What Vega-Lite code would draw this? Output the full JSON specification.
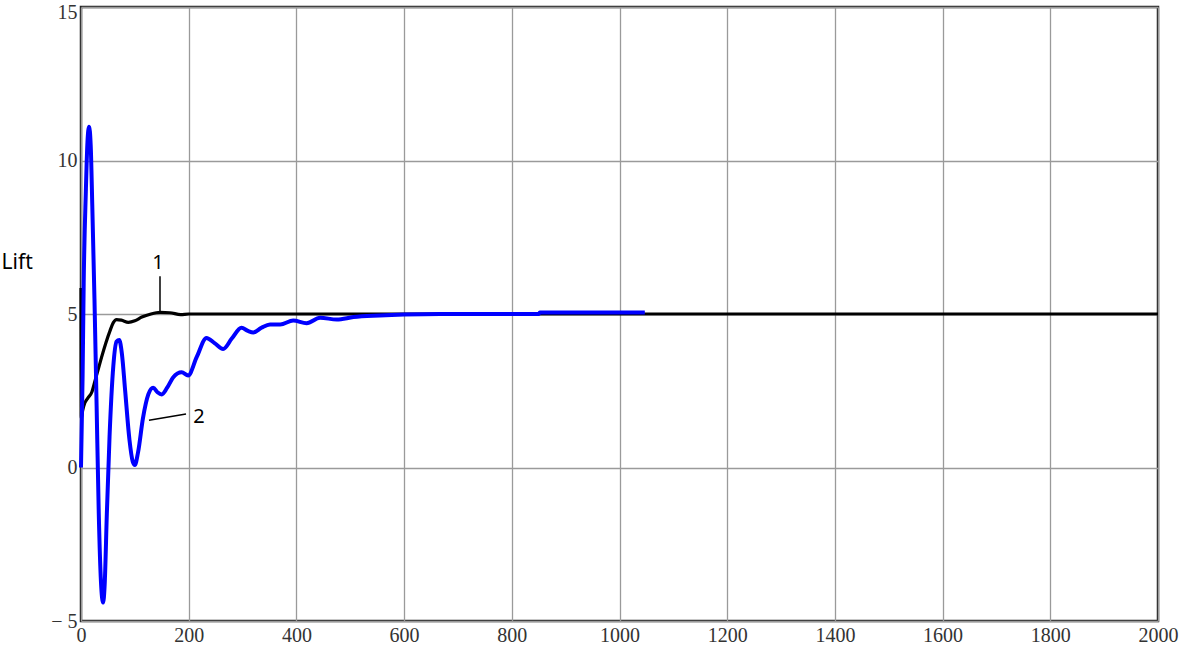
{
  "$schema": "https://vega.github.io/schema/vega-lite/v6.json",
  "width": 1077,
  "height": 614,
  "autosize": {"type": "none"},
  "padding": {"left": 81, "top": 7, "right": 30, "bottom": 29},
  "background": "white",
  "config": {
    "view": {"stroke": "#222", "strokeWidth": 2.5},
    "axis": {
      "grid": true,
      "gridColor": "#9a9a9a",
      "gridWidth": 1.3,
      "ticks": false,
      "domain": false,
      "labelFont": "Liberation Serif",
      "labelFontSize": 20,
      "labelColor": "#333",
      "labelOverlap": false,
      "labelFlush": false,
      "labelBound": false
    }
  },
  "datasets": {
    "curves": [
      {"series": "1", "i": 0, "x": 0, "y": 5.85},
      {"series": "1", "i": 1, "x": 0.5, "y": 1.6},
      {"series": "1", "i": 2, "x": 3, "y": 1.85},
      {"series": "1", "i": 3, "x": 7, "y": 2.1},
      {"series": "1", "i": 4, "x": 13, "y": 2.27},
      {"series": "1", "i": 5, "x": 20, "y": 2.45},
      {"series": "1", "i": 6, "x": 26, "y": 2.82},
      {"series": "1", "i": 7, "x": 32, "y": 3.2},
      {"series": "1", "i": 8, "x": 38, "y": 3.58},
      {"series": "1", "i": 9, "x": 46, "y": 4.05},
      {"series": "1", "i": 10, "x": 54, "y": 4.46},
      {"series": "1", "i": 11, "x": 60, "y": 4.72},
      {"series": "1", "i": 12, "x": 66, "y": 4.82},
      {"series": "1", "i": 13, "x": 75, "y": 4.8},
      {"series": "1", "i": 14, "x": 88, "y": 4.73},
      {"series": "1", "i": 15, "x": 100, "y": 4.78},
      {"series": "1", "i": 16, "x": 113, "y": 4.9},
      {"series": "1", "i": 17, "x": 130, "y": 5.0},
      {"series": "1", "i": 18, "x": 147, "y": 5.05},
      {"series": "1", "i": 19, "x": 165, "y": 5.04},
      {"series": "1", "i": 20, "x": 185, "y": 4.98},
      {"series": "1", "i": 21, "x": 200, "y": 5.0},
      {"series": "1", "i": 22, "x": 2000, "y": 5.0},
      {"series": "2", "i": 0, "x": 0, "y": 0.0},
      {"series": "2", "i": 1, "x": 3, "y": 3.0},
      {"series": "2", "i": 2, "x": 5, "y": 6.0},
      {"series": "2", "i": 3, "x": 9, "y": 9.0},
      {"series": "2", "i": 4, "x": 12, "y": 10.6},
      {"series": "2", "i": 5, "x": 15, "y": 11.1},
      {"series": "2", "i": 6, "x": 18, "y": 10.5},
      {"series": "2", "i": 7, "x": 21, "y": 8.5},
      {"series": "2", "i": 8, "x": 25, "y": 5.5},
      {"series": "2", "i": 9, "x": 29, "y": 2.0},
      {"series": "2", "i": 10, "x": 33, "y": -1.5},
      {"series": "2", "i": 11, "x": 37, "y": -3.7},
      {"series": "2", "i": 12, "x": 41, "y": -4.4},
      {"series": "2", "i": 13, "x": 44, "y": -3.8},
      {"series": "2", "i": 14, "x": 48, "y": -1.5},
      {"series": "2", "i": 15, "x": 53, "y": 1.0},
      {"series": "2", "i": 16, "x": 60, "y": 3.3},
      {"series": "2", "i": 17, "x": 66, "y": 4.1},
      {"series": "2", "i": 18, "x": 71, "y": 4.15},
      {"series": "2", "i": 19, "x": 76, "y": 3.7},
      {"series": "2", "i": 20, "x": 82, "y": 2.5},
      {"series": "2", "i": 21, "x": 90, "y": 0.9},
      {"series": "2", "i": 22, "x": 96, "y": 0.2},
      {"series": "2", "i": 23, "x": 100, "y": 0.08},
      {"series": "2", "i": 24, "x": 106, "y": 0.5},
      {"series": "2", "i": 25, "x": 115, "y": 1.6},
      {"series": "2", "i": 26, "x": 125, "y": 2.38},
      {"series": "2", "i": 27, "x": 134, "y": 2.6},
      {"series": "2", "i": 28, "x": 142, "y": 2.45},
      {"series": "2", "i": 29, "x": 150, "y": 2.38},
      {"series": "2", "i": 30, "x": 160, "y": 2.6},
      {"series": "2", "i": 31, "x": 171, "y": 2.93},
      {"series": "2", "i": 32, "x": 187, "y": 3.1},
      {"series": "2", "i": 33, "x": 199, "y": 3.0},
      {"series": "2", "i": 34, "x": 215, "y": 3.6},
      {"series": "2", "i": 35, "x": 233, "y": 4.22},
      {"series": "2", "i": 36, "x": 248, "y": 4.05},
      {"series": "2", "i": 37, "x": 264, "y": 3.86},
      {"series": "2", "i": 38, "x": 280, "y": 4.2},
      {"series": "2", "i": 39, "x": 298, "y": 4.55},
      {"series": "2", "i": 40, "x": 310, "y": 4.45},
      {"series": "2", "i": 41, "x": 320, "y": 4.4},
      {"series": "2", "i": 42, "x": 335, "y": 4.55},
      {"series": "2", "i": 43, "x": 351, "y": 4.66},
      {"series": "2", "i": 44, "x": 370, "y": 4.66},
      {"series": "2", "i": 45, "x": 394, "y": 4.79},
      {"series": "2", "i": 46, "x": 419, "y": 4.7},
      {"series": "2", "i": 47, "x": 444, "y": 4.88},
      {"series": "2", "i": 48, "x": 475, "y": 4.82},
      {"series": "2", "i": 49, "x": 506, "y": 4.9},
      {"series": "2", "i": 50, "x": 555, "y": 4.95},
      {"series": "2", "i": 51, "x": 600, "y": 4.98},
      {"series": "2", "i": 52, "x": 667, "y": 5.0},
      {"series": "2", "i": 53, "x": 850, "y": 5.0},
      {"series": "2", "i": 54, "x": 852, "y": 5.05},
      {"series": "2", "i": 55, "x": 1047, "y": 5.05}
    ],
    "leaders": [
      {"x": 146.7, "y": 6.23, "x2": 146.7, "y2": 5.08},
      {"x": 126.3, "y": 1.54, "x2": 195, "y2": 1.74}
    ],
    "labels": [
      {"x": 143, "y": 6.66, "text": "1"},
      {"x": 219, "y": 1.64, "text": "2"}
    ]
  },
  "layer": [
    {
      "data": {"name": "curves"},
      "transform": [{"filter": "datum.series == '1'"}],
      "mark": {"type": "line", "color": "#000000", "strokeWidth": 3.2, "interpolate": "monotone"},
      "encoding": {
        "x": {
          "field": "x", "type": "quantitative",
          "scale": {"domain": [0, 2000], "nice": false, "zero": false},
          "axis": {
            "values": [0, 200, 400, 600, 800, 1000, 1200, 1400, 1600, 1800, 2000],
            "format": "d",
            "title": null,
            "labelDx": 6,
            "labelPadding": 4
          }
        },
        "y": {
          "field": "y", "type": "quantitative",
          "scale": {"domain": [-5, 15], "nice": false, "zero": false},
          "axis": {
            "values": [-5, 0, 5, 10, 15],
            "labelExpr": "datum.value < 0 ? '− ' + abs(datum.value) : datum.label",
            "labelPadding": 4,
            "labelBaseline": {"condition": {"test": "datum.value == 15", "value": "top"}, "value": "middle"},
            "labelOffset": {"condition": {"test": "datum.value == 15", "value": -5}, "value": 0},
            "title": "Lift",
            "titleAngle": 0,
            "titleAlign": "left",
            "titleBaseline": "middle",
            "titleX": -80,
            "titleY": 255,
            "titleFont": "Noto Sans",
            "titleFontSize": 21,
            "titleFontWeight": "normal",
            "titleColor": "#000"
          }
        },
        "order": {"field": "i", "type": "quantitative"}
      }
    },
    {
      "data": {"name": "curves"},
      "transform": [{"filter": "datum.series == '2'"}],
      "mark": {"type": "line", "color": "#0000ff", "strokeWidth": 4, "interpolate": "monotone"},
      "encoding": {
        "x": {"field": "x", "type": "quantitative"},
        "y": {"field": "y", "type": "quantitative"},
        "order": {"field": "i", "type": "quantitative"}
      }
    },
    {
      "data": {"name": "leaders"},
      "mark": {"type": "rule", "color": "#000", "strokeWidth": 1.5},
      "encoding": {
        "x": {"field": "x", "type": "quantitative"},
        "y": {"field": "y", "type": "quantitative"},
        "x2": {"field": "x2"},
        "y2": {"field": "y2"}
      }
    },
    {
      "data": {"name": "labels"},
      "mark": {"type": "text", "font": "Noto Sans", "fontSize": 20, "color": "#000", "align": "center", "baseline": "middle"},
      "encoding": {
        "x": {"field": "x", "type": "quantitative"},
        "y": {"field": "y", "type": "quantitative"},
        "text": {"field": "text"}
      }
    }
  ]
}
